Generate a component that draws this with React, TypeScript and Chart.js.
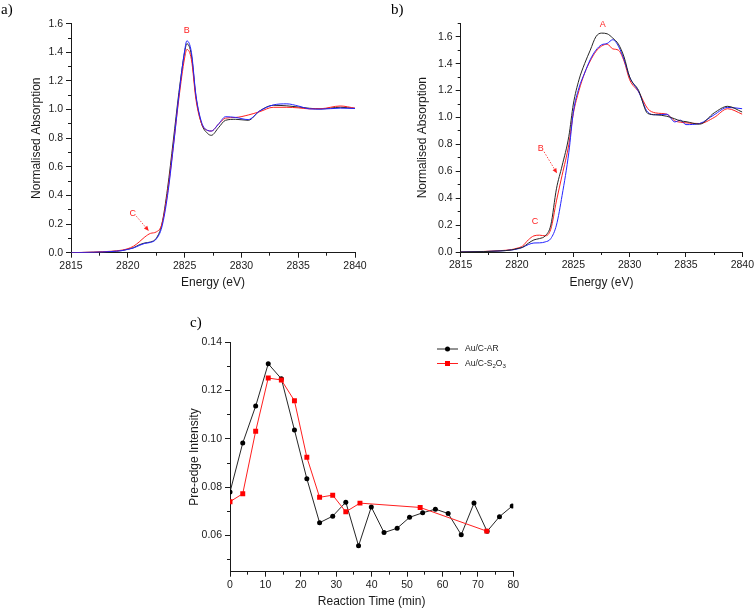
import React, { useEffect, useRef } from 'react';
import { Chart, registerables } from 'chart.js';

Chart.register(...registerables);

const FONT = '"Liberation Sans", Arial, Helvetica, sans-serif';
const SERIF = '"Liberation Serif", "Times New Roman", Times, serif';
const INK = '#1a1a1a';
const RED = '#ff1f1f';
const BLUE = '#2424ff';
const BLACK = '#262626';

// ---------- Panel a ----------
const energyA = [2815, 2817, 2818.5, 2819.5, 2820, 2820.5, 2821, 2821.5, 2822, 2822.5, 2823, 2823.5, 2824, 2824.5, 2825, 2825.2, 2825.6, 2826, 2826.5, 2827, 2827.35, 2828, 2828.6, 2829.5, 2830.6, 2831.6, 2832.8, 2834, 2835, 2836, 2837, 2838.7, 2840];
const absABlack = [0, 0.003, 0.008, 0.015, 0.025, 0.035, 0.055, 0.068, 0.075, 0.1, 0.2, 0.45, 0.78, 1.12, 1.4, 1.46, 1.38, 1.09, 0.9, 0.835, 0.82, 0.875, 0.925, 0.932, 0.925, 0.99, 1.03, 1.026, 1.018, 1.009, 1.005, 1.016, 1.008];
const absARed = [0, 0.004, 0.01, 0.018, 0.028, 0.045, 0.075, 0.11, 0.135, 0.145, 0.2, 0.42, 0.74, 1.08, 1.36, 1.42, 1.35, 1.07, 0.9, 0.855, 0.85, 0.9, 0.94, 0.945, 0.962, 0.985, 1.016, 1.016, 1.012, 1.005, 1.006, 1.025, 1.01];
const absABlue = [0, 0.003, 0.008, 0.015, 0.023, 0.033, 0.05, 0.065, 0.072, 0.095, 0.18, 0.4, 0.73, 1.1, 1.41, 1.48, 1.4, 1.1, 0.91, 0.855, 0.85, 0.9, 0.95, 0.945, 0.93, 0.99, 1.032, 1.04, 1.025, 1.005, 1.003, 1.01, 1.008];
const labelsA = [
  { text: 'B', x: 2825.18, y: 1.55 },
  { text: 'C', x: 2820.43, y: 0.275 },
];
const arrowsA = [{ x1: 2820.75, y1: 0.255, x2: 2821.85, y2: 0.152 }];

// ---------- Panel b ----------
const energyB = [2815, 2817, 2818.5, 2819.5, 2820, 2820.5, 2821, 2821.5, 2822, 2822.5, 2823, 2823.5, 2824, 2824.6, 2825, 2825.5, 2826, 2826.5, 2827, 2827.5, 2828, 2828.5, 2829, 2829.5, 2830, 2830.8, 2831.6, 2832.3, 2833.3, 2834, 2834.5, 2835, 2836.2, 2837.5, 2838.7, 2840];
const absBBlack = [0, 0.003, 0.008, 0.015, 0.025, 0.035, 0.065, 0.09, 0.1, 0.12, 0.2, 0.47, 0.64, 0.86, 1.1, 1.28, 1.4, 1.5, 1.6, 1.627, 1.622, 1.59, 1.545, 1.45, 1.3, 1.2, 1.03, 1.02, 1.009, 0.99, 0.975, 0.969, 0.95, 1.034, 1.083, 1.04];
const absBRed = [0, 0.004, 0.01, 0.018, 0.028, 0.045, 0.09, 0.12, 0.125, 0.12, 0.17, 0.38, 0.57, 0.8, 1.03, 1.2, 1.33, 1.42, 1.49, 1.53, 1.545, 1.51, 1.5, 1.42, 1.28, 1.19, 1.066, 1.034, 1.024, 0.975, 0.965, 0.96, 0.955, 1.0, 1.065, 1.024];
const absBBlue = [0, 0.003, 0.008, 0.015, 0.022, 0.035, 0.055, 0.067, 0.068, 0.075, 0.1, 0.2, 0.42, 0.74, 1.04, 1.22, 1.33, 1.43, 1.5, 1.54, 1.55, 1.578, 1.53, 1.43, 1.3, 1.19, 1.04, 1.02, 1.024, 0.967, 0.98, 0.947, 0.955, 1.02, 1.075, 1.065];
const labelsB = [
  { text: 'A', x: 2827.6, y: 1.69 },
  { text: 'B', x: 2822.1, y: 0.77 },
  { text: 'C', x: 2821.6, y: 0.225 },
];
const arrowsB = [{ x1: 2822.4, y1: 0.745, x2: 2823.55, y2: 0.585 }];

// ---------- Panel c ----------
const timeAR = [0, 3.6, 7.25, 10.8, 14.5, 18.2, 21.7, 25.3, 29.0, 32.7, 36.3, 39.9, 43.5, 47.2, 50.7, 54.4, 58.0, 61.6, 65.3, 68.9, 72.6, 76.1, 79.7];
const intensityAR = [0.078, 0.0983, 0.1136, 0.1311, 0.1249, 0.1037, 0.0835, 0.0653, 0.068, 0.0738, 0.0557, 0.0718, 0.0612, 0.063, 0.0675, 0.0694, 0.0709, 0.0691, 0.0603, 0.0734, 0.0617, 0.0678, 0.0722];
const timeS2O3 = [0, 3.6, 7.25, 10.8, 14.5, 18.2, 21.7, 25.3, 29.0, 32.7, 36.7, 53.7, 72.5];
const intensityS2O3 = [0.074, 0.0773, 0.1032, 0.1252, 0.1244, 0.1158, 0.0924, 0.0758, 0.0767, 0.0698, 0.0734, 0.0716, 0.0618];
const seriesNamesC = ['Au/C-AR', 'Au/C-S2O3'];

const pts = (xs: number[], ys: number[]) => xs.map((x, i) => ({ x, y: ys[i] }));

function minorTicks(xStep: number, yStep: number) {
  return {
    id: 'minorTicks',
    afterDraw(chart: any) {
      const { ctx, chartArea } = chart;
      const xs = chart.scales.x;
      const ys = chart.scales.y;
      ctx.save();
      ctx.strokeStyle = INK;
      ctx.lineWidth = 1;
      ctx.beginPath();
      for (let k = Math.ceil(xs.min / xStep - 1e-6); k * xStep <= xs.max + 1e-6; k++) {
        const px = Math.round(xs.getPixelForValue(k * xStep) - 0.5) + 0.5;
        ctx.moveTo(px, chartArea.bottom);
        ctx.lineTo(px, chartArea.bottom + 3);
      }
      for (let k = Math.ceil(ys.min / yStep - 1e-6); k * yStep <= ys.max + 1e-6; k++) {
        const py = Math.round(ys.getPixelForValue(k * yStep) - 0.5) + 0.5;
        ctx.moveTo(chartArea.left, py);
        ctx.lineTo(chartArea.left - 3, py);
      }
      ctx.stroke();
      ctx.restore();
    },
  };
}

type Lbl = { text: string; x: number; y: number };
type Arr = { x1: number; y1: number; x2: number; y2: number };

function annotations(labels: Lbl[], arrows: Arr[]) {
  return {
    id: 'peakLabels',
    afterDatasetsDraw(chart: any) {
      const { ctx } = chart;
      const xs = chart.scales.x;
      const ys = chart.scales.y;
      ctx.save();
      ctx.fillStyle = RED;
      ctx.strokeStyle = RED;
      ctx.font = `9px ${FONT}`;
      ctx.textAlign = 'center';
      ctx.textBaseline = 'middle';
      labels.forEach((l) => ctx.fillText(l.text, xs.getPixelForValue(l.x), ys.getPixelForValue(l.y)));
      arrows.forEach((a) => {
        const x1 = xs.getPixelForValue(a.x1), y1 = ys.getPixelForValue(a.y1);
        const x2 = xs.getPixelForValue(a.x2), y2 = ys.getPixelForValue(a.y2);
        const ang = Math.atan2(y2 - y1, x2 - x1);
        const hl = 5, hw = 2.2;
        const bx = x2 - hl * Math.cos(ang), by = y2 - hl * Math.sin(ang);
        ctx.setLineDash([1.5, 1.5]);
        ctx.lineWidth = 0.8;
        ctx.beginPath();
        ctx.moveTo(x1, y1);
        ctx.lineTo(bx, by);
        ctx.stroke();
        ctx.setLineDash([]);
        ctx.beginPath();
        ctx.moveTo(x2, y2);
        ctx.lineTo(bx + hw * Math.sin(ang), by - hw * Math.cos(ang));
        ctx.lineTo(bx - hw * Math.sin(ang), by + hw * Math.cos(ang));
        ctx.closePath();
        ctx.fill();
      });
      ctx.restore();
    },
  };
}

function drawRich(ctx: CanvasRenderingContext2D, text: string, x: number, y: number, size: number) {
  let cx = x;
  for (const ch of text) {
    const sub = /[0-9]/.test(ch);
    ctx.font = `${sub ? size * 0.72 : size}px ${FONT}`;
    ctx.fillText(ch, cx, sub ? y + size * 0.32 : y);
    cx += ctx.measureText(ch).width;
  }
}

const legendC = {
  id: 'legendC',
  afterDraw(chart: any) {
    const { ctx, chartArea } = chart;
    ctx.save();
    chart.data.datasets.forEach((ds: any, i: number) => {
      const y = chartArea.top + 6.7 + i * 14.5;
      const x0 = chartArea.left + 207;
      const x1 = chartArea.left + 228;
      const mx = chartArea.left + 217.5;
      ctx.strokeStyle = ds.borderColor;
      ctx.lineWidth = 1;
      ctx.beginPath();
      ctx.moveTo(x0, y);
      ctx.lineTo(x1, y);
      ctx.stroke();
      ctx.fillStyle = ds.pointBackgroundColor;
      if (ds.pointStyle === 'rect') {
        ctx.fillRect(mx - 2.5, y - 2.5, 5, 5);
      } else {
        ctx.beginPath();
        ctx.arc(mx, y, 2.5, 0, Math.PI * 2);
        ctx.fill();
      }
      ctx.fillStyle = INK;
      ctx.textAlign = 'left';
      ctx.textBaseline = 'middle';
      drawRich(ctx, ds.label, chartArea.left + 235, y, 8.5);
    });
    ctx.restore();
  },
};

function xAxis(min: number, max: number, step: number, title: string, height: number, titlePad: number, fmt: (v: number) => string) {
  return {
    type: 'linear',
    min,
    max,
    ticks: {
      stepSize: step,
      includeBounds: false,
      autoSkip: false,
      maxRotation: 0,
      padding: 2,
      color: INK,
      font: { family: FONT, size: 10.5 },
      callback: (v: any) => fmt(Number(v)),
    },
    grid: { display: true, drawOnChartArea: false, drawTicks: true, tickLength: 5, tickColor: INK, tickWidth: 1 },
    border: { display: true, color: INK, width: 1 },
    title: { display: true, text: title, color: INK, font: { family: FONT, size: 12 }, padding: { top: 0, bottom: titlePad } },
    afterFit: (s: any) => { s.height = height; },
  };
}

function yAxis(min: number, max: number, step: number, title: string, width: number, titlePad: number, fmt: (v: number) => string) {
  return {
    type: 'linear',
    min,
    max,
    ticks: {
      stepSize: step,
      includeBounds: false,
      autoSkip: false,
      padding: 3,
      color: INK,
      font: { family: FONT, size: 10.5 },
      callback: (v: any) => fmt(Number(v)),
    },
    grid: { display: true, drawOnChartArea: false, drawTicks: true, tickLength: 5, tickColor: INK, tickWidth: 1 },
    border: { display: true, color: INK, width: 1 },
    title: { display: true, text: title, color: INK, font: { family: FONT, size: 12 }, padding: { top: titlePad, bottom: 0 } },
    afterFit: (s: any) => { s.width = width; },
  };
}

const spectrumLine = (data: any, color: string) => ({
  data,
  borderColor: color,
  backgroundColor: color,
  borderWidth: 1,
  pointRadius: 0,
  fill: false,
  cubicInterpolationMode: 'monotone',
});

const configA = () => ({
  type: 'line',
  data: {
    datasets: [
      spectrumLine(pts(energyA, absABlue), BLUE),
      spectrumLine(pts(energyA, absARed), RED),
      spectrumLine(pts(energyA, absABlack), BLACK),
    ],
  },
  options: {
    responsive: false,
    animation: false,
    events: [],
    layout: { padding: { left: 0, top: 23.7, right: 23, bottom: 0 } },
    plugins: { legend: { display: false }, tooltip: { enabled: false } },
    scales: {
      x: xAxis(2815, 2840, 5, 'Energy (eV)', 47.3, 9.8, (v) => String(v)),
      y: yAxis(0, 1.6, 0.2, 'Normalised Absorption', 71, 29.8, (v) => v.toFixed(1)),
    },
  },
  plugins: [minorTicks(2.5, 0.1), annotations(labelsA, arrowsA)],
});

const configB = () => ({
  type: 'line',
  data: {
    datasets: [
      spectrumLine(pts(energyB, absBBlack), BLACK),
      spectrumLine(pts(energyB, absBBlue), BLUE),
      spectrumLine(pts(energyB, absBRed), RED),
    ],
  },
  options: {
    responsive: false,
    animation: false,
    events: [],
    layout: { padding: { left: 0, top: 23.3, right: 11.3, bottom: 0 } },
    plugins: { legend: { display: false }, tooltip: { enabled: false } },
    scales: {
      x: xAxis(2815, 2840, 5, 'Energy (eV)', 48, 9.8, (v) => String(v)),
      y: yAxis(0, 1.7, 0.2, 'Normalised Absorption', 82.7, 37.8, (v) => v.toFixed(1)),
    },
  },
  plugins: [minorTicks(2.5, 0.1), annotations(labelsB, arrowsB)],
});

const configC = () => ({
  type: 'line',
  data: {
    datasets: [
      {
        label: seriesNamesC[0],
        data: pts(timeAR, intensityAR),
        borderColor: BLACK,
        backgroundColor: BLACK,
        pointBackgroundColor: '#000000',
        pointBorderColor: '#000000',
        pointStyle: 'circle',
        pointRadius: 2.5,
        pointBorderWidth: 0,
        borderWidth: 1,
        tension: 0,
        fill: false,
        order: 1,
      },
      {
        label: seriesNamesC[1],
        data: pts(timeS2O3, intensityS2O3),
        borderColor: RED,
        backgroundColor: RED,
        pointBackgroundColor: '#ff0000',
        pointBorderColor: '#ff0000',
        pointStyle: 'rect',
        pointRadius: 3.5,
        pointBorderWidth: 0,
        borderWidth: 1,
        tension: 0,
        fill: false,
        order: 0,
      },
    ],
  },
  options: {
    responsive: false,
    animation: false,
    events: [],
    layout: { padding: { left: 0, top: 42.3, right: 66.7, bottom: 0 } },
    plugins: { legend: { display: false }, tooltip: { enabled: false } },
    scales: {
      x: xAxis(0, 80, 10, 'Reaction Time (min)', 37.3, 0, (v) => String(v)),
      y: yAxis(0.045, 0.14, 0.02, 'Pre-edge Intensity', 50, 7.8, (v) => v.toFixed(2)),
    },
  },
  plugins: [minorTicks(5, 0.01), legendC],
});

function ChartBox(props: { left: number; top: number; width: number; height: number; config: () => any }) {
  const ref = useRef<HTMLCanvasElement | null>(null);
  useEffect(() => {
    if (!ref.current) return;
    const chart = new Chart(ref.current, props.config());
    return () => chart.destroy();
  }, []);
  return (
    <canvas
      ref={ref}
      width={props.width}
      height={props.height}
      style={{ position: 'absolute', left: props.left, top: props.top, width: props.width, height: props.height, display: 'block' }}
    />
  );
}

const panelLabel = (text: string, left: number, top: number) => (
  <div style={{ position: 'absolute', left, top, font: `15px ${SERIF}`, color: '#000', lineHeight: '17px' }}>{text}</div>
);

export default function App() {
  return (
    <div style={{ position: 'absolute', left: 0, top: 0, width: 756, height: 609, background: '#fff', overflow: 'hidden' }}>
      <ChartBox left={0} top={0} width={378} height={300} config={configA} />
      <ChartBox left={378} top={0} width={378} height={300} config={configB} />
      <ChartBox left={180} top={300} width={400} height={309} config={configC} />
      {panelLabel('a)', 1, 1)}
      {panelLabel('b)', 391, 1)}
      {panelLabel('c)', 190, 314)}
    </div>
  );
}
